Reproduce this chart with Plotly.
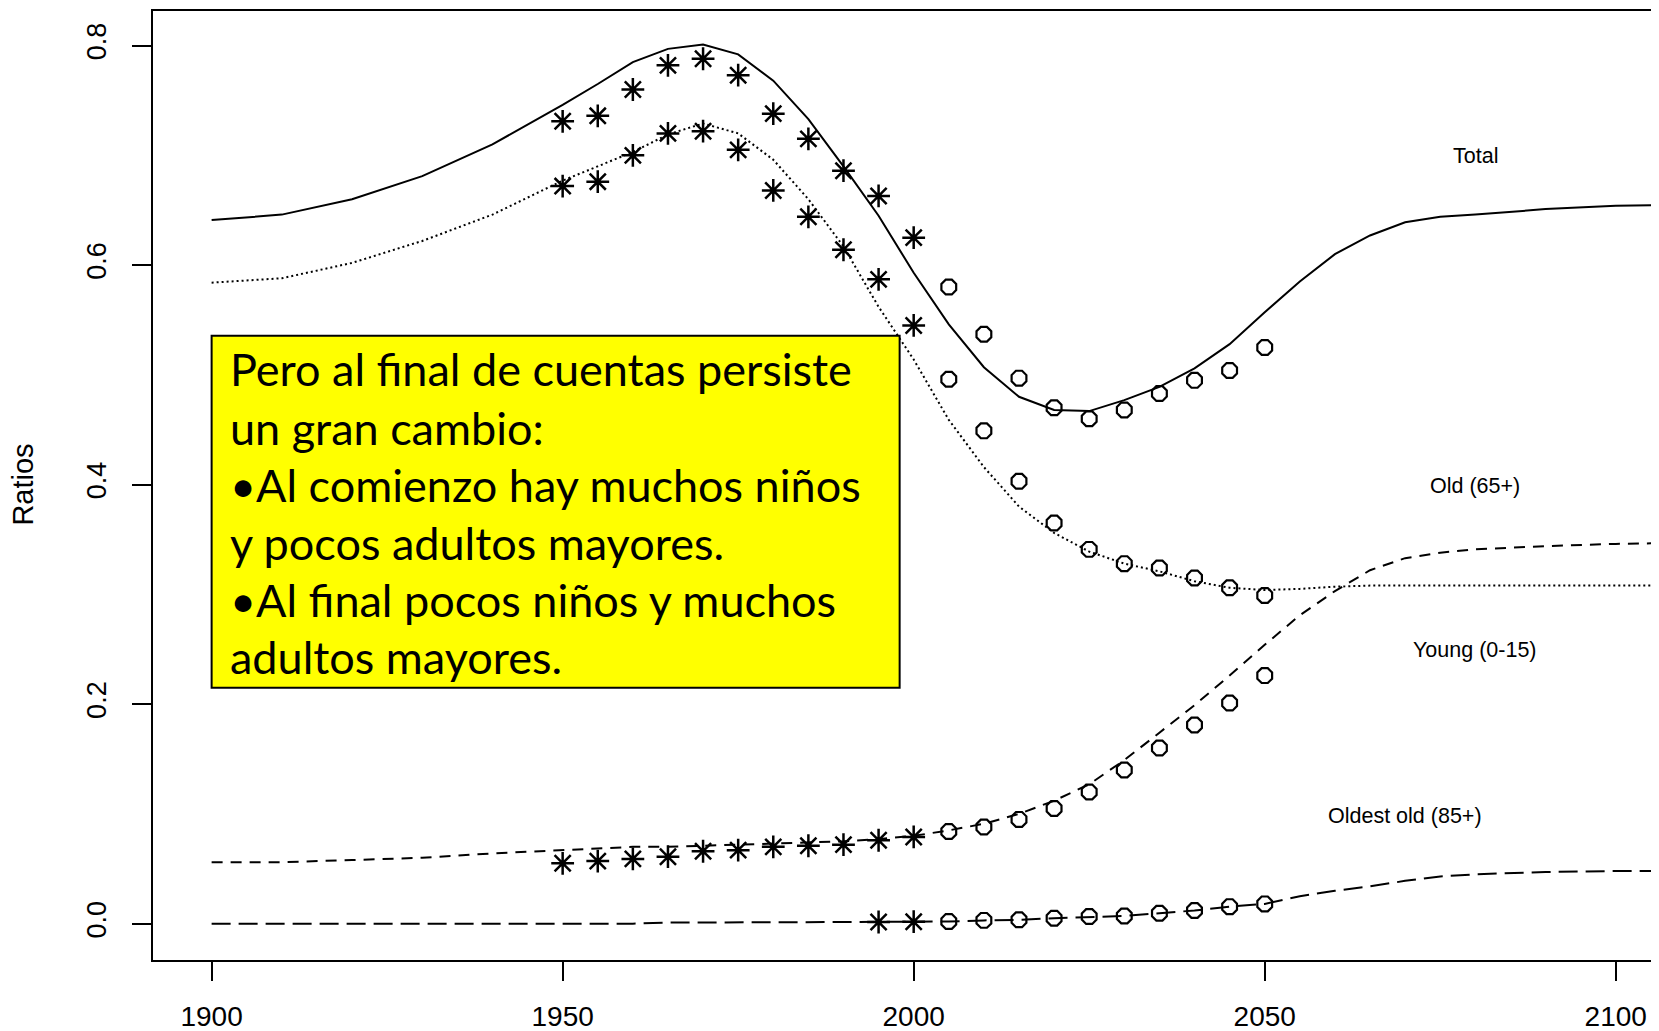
import plotly.graph_objects as go

# curve years (projection lines)
LINE_YEARS = [1900, 1910, 1920, 1930, 1940, 1950, 1955, 1960, 1965, 1970, 1975, 1980,
              1985, 1990, 1995, 2000, 2005, 2010, 2015, 2020, 2025, 2030, 2035, 2040,
              2045, 2050, 2055, 2060, 2065, 2070, 2075, 2080, 2090, 2100, 2110]
TOTAL_LINE = [0.641, 0.646, 0.660, 0.681, 0.710, 0.746, 0.765, 0.785, 0.797, 0.801, 0.792, 0.768,
              0.733, 0.690, 0.645, 0.593, 0.546, 0.507, 0.480, 0.468, 0.467, 0.477, 0.489, 0.506,
              0.528, 0.557, 0.585, 0.610, 0.627, 0.639, 0.644, 0.646, 0.651, 0.654, 0.655]
YOUNG_LINE = [0.584, 0.588, 0.602, 0.622, 0.646, 0.677, 0.690, 0.703, 0.719, 0.729, 0.720, 0.696,
              0.660, 0.617, 0.562, 0.514, 0.459, 0.416, 0.380, 0.356, 0.339, 0.328, 0.321, 0.312,
              0.306, 0.304, 0.305, 0.307, 0.308, 0.308, 0.308, 0.308, 0.308, 0.308, 0.308]
OLD_LINE = [0.056, 0.056, 0.058, 0.060, 0.064, 0.067, 0.069, 0.070, 0.070, 0.071, 0.072, 0.073,
            0.074, 0.075, 0.077, 0.080, 0.085, 0.091, 0.100, 0.112, 0.127, 0.149, 0.174, 0.199,
            0.226, 0.254, 0.281, 0.303, 0.322, 0.333, 0.338, 0.341, 0.344, 0.346, 0.347]
OLDEST_LINE = [0.000, 0.000, 0.000, 0.000, 0.000, 0.000, 0.000, 0.000, 0.001, 0.001, 0.001, 0.0015,
               0.0015, 0.0015, 0.0017, 0.002, 0.002, 0.003, 0.0035, 0.005, 0.006, 0.007, 0.0095, 0.012,
               0.0155, 0.018, 0.025, 0.030, 0.034, 0.039, 0.043, 0.045, 0.047, 0.048, 0.048]

# observed values (stars) and projected values (circles)
EST_YEARS = [1950, 1955, 1960, 1965, 1970, 1975, 1980, 1985, 1990, 1995, 2000]
TOTAL_EST = [0.731, 0.736, 0.760, 0.782, 0.788, 0.773, 0.738, 0.715, 0.686, 0.663, 0.625]
YOUNG_EST = [0.672, 0.676, 0.700, 0.720, 0.722, 0.705, 0.668, 0.644, 0.614, 0.587, 0.545]
OLD_EST = [0.055, 0.057, 0.059, 0.061, 0.066, 0.067, 0.070, 0.071, 0.072, 0.076, 0.079]
OLDEST_EST_YEARS = [1995, 2000]
OLDEST_EST = [0.0015, 0.0018]

PROJ_YEARS = [2005, 2010, 2015, 2020, 2025, 2030, 2035, 2040, 2045, 2050]
TOTAL_PROJ = [0.580, 0.537, 0.497, 0.470, 0.460, 0.468, 0.483, 0.495, 0.504, 0.525]
YOUNG_PROJ = [0.496, 0.449, 0.403, 0.365, 0.341, 0.328, 0.324, 0.315, 0.306, 0.299]
OLD_PROJ = [0.084, 0.088, 0.095, 0.105, 0.120, 0.140, 0.160, 0.181, 0.201, 0.226]
OLDEST_PROJ = [0.002, 0.003, 0.0035, 0.005, 0.0065, 0.007, 0.0095, 0.012, 0.0155, 0.018]

X_TICKS = [1900, 1950, 2000, 2050, 2100]
Y_TICKS = [0.0, 0.2, 0.4, 0.6, 0.8]

BOX_LINES = [
    "Pero al final de cuentas persiste",
    "un gran cambio:",
    "•Al comienzo hay muchos niños",
    "y pocos adultos mayores.",
    "•Al final pocos niños y muchos",
    "adultos mayores.",
]
BOX_LINE_Y = [0.505, 0.452, 0.400, 0.347, 0.295, 0.243]

LABELS = ["Total", "Old (65+)", "Young (0-15)", "Oldest old (85+)"]
LABEL_X = [2080, 2080, 2080, 2070]
LABEL_Y = [0.699, 0.399, 0.249, 0.098]

R_FONT = "Liberation Sans"
BOX_FONT = "Lato"
BLACK = "#000000"

fig = go.Figure()

line_specs = [
    (TOTAL_LINE, "solid"),
    (YOUNG_LINE, "2px,3px"),
    (OLD_LINE, "11px,8px"),
    (OLDEST_LINE, "19px,8px"),
]
for vals, dash in line_specs:
    fig.add_trace(go.Scatter(
        x=LINE_YEARS, y=vals, mode="lines",
        line=dict(color=BLACK, width=2, dash=dash),
        hoverinfo="skip",
    ))

star = dict(symbol="asterisk-open", size=19, color=BLACK, line=dict(color=BLACK, width=2.5))
for vals in [TOTAL_EST, YOUNG_EST, OLD_EST]:
    fig.add_trace(go.Scatter(x=EST_YEARS, y=vals, mode="markers", marker=star))
fig.add_trace(go.Scatter(x=OLDEST_EST_YEARS, y=OLDEST_EST, mode="markers", marker=star))

ring = dict(symbol="octagon-open", size=16, color=BLACK, line=dict(color=BLACK, width=2.2))
for vals in [TOTAL_PROJ, YOUNG_PROJ, OLD_PROJ, OLDEST_PROJ]:
    fig.add_trace(go.Scatter(x=PROJ_YEARS, y=vals, mode="markers", marker=ring))

# yellow text box, drawn over the curves
fig.add_shape(
    type="rect", xref="x", yref="y",
    x0=1900, x1=1998, y0=0.215, y1=0.5357,
    fillcolor="#FFFF00", line=dict(color=BLACK, width=2), layer="above",
)
for txt, yy in zip(BOX_LINES, BOX_LINE_Y):
    fig.add_annotation(
        x=1902.4, y=yy, xref="x", yref="y", text=txt, showarrow=False,
        xanchor="left", yanchor="middle",
        font=dict(family=BOX_FONT, size=45, color=BLACK),
    )

for txt, xx, yy in zip(LABELS, LABEL_X, LABEL_Y):
    fig.add_annotation(
        x=xx, y=yy, xref="x", yref="y", text=txt, showarrow=False,
        xanchor="center", yanchor="middle",
        font=dict(family=R_FONT, size=21.5, color=BLACK),
    )

fig.add_annotation(
    x=0, y=0.40, xref="paper", yref="y", text="Ratios", showarrow=False,
    xanchor="center", yanchor="middle", xshift=-130, textangle=-90,
    font=dict(family=R_FONT, size=29, color=BLACK),
)

# the page body has an 8px margin, so margins are reduced by 8px
fig.update_layout(
    width=1659,
    height=1031,
    showlegend=False,
    plot_bgcolor="white",
    paper_bgcolor="white",
    margin=dict(l=145, r=0, t=3, b=79),
    font=dict(family=R_FONT, color=BLACK),
    xaxis=dict(
        range=[1891.65, 2107.3],
        tickvals=X_TICKS,
        ticks="outside", ticklen=19, tickwidth=2, tickcolor=BLACK,
        ticklabelstandoff=11,
        tickfont=dict(family=R_FONT, size=28, color=BLACK),
        showline=True, linecolor=BLACK, linewidth=2, mirror=True,
        showgrid=False, zeroline=False,
    ),
    yaxis=dict(
        range=[-0.0331, 0.8315],
        tickvals=Y_TICKS, tickformat=".1f",
        ticks="outside", ticklen=19, tickwidth=2, tickcolor=BLACK,
        tickangle=-90, ticklabelstandoff=15,
        tickfont=dict(family=R_FONT, size=27, color=BLACK),
        showline=True, linecolor=BLACK, linewidth=2, mirror=False,
        showgrid=False, zeroline=False,
    ),
)

fig.write_html("out.html")
